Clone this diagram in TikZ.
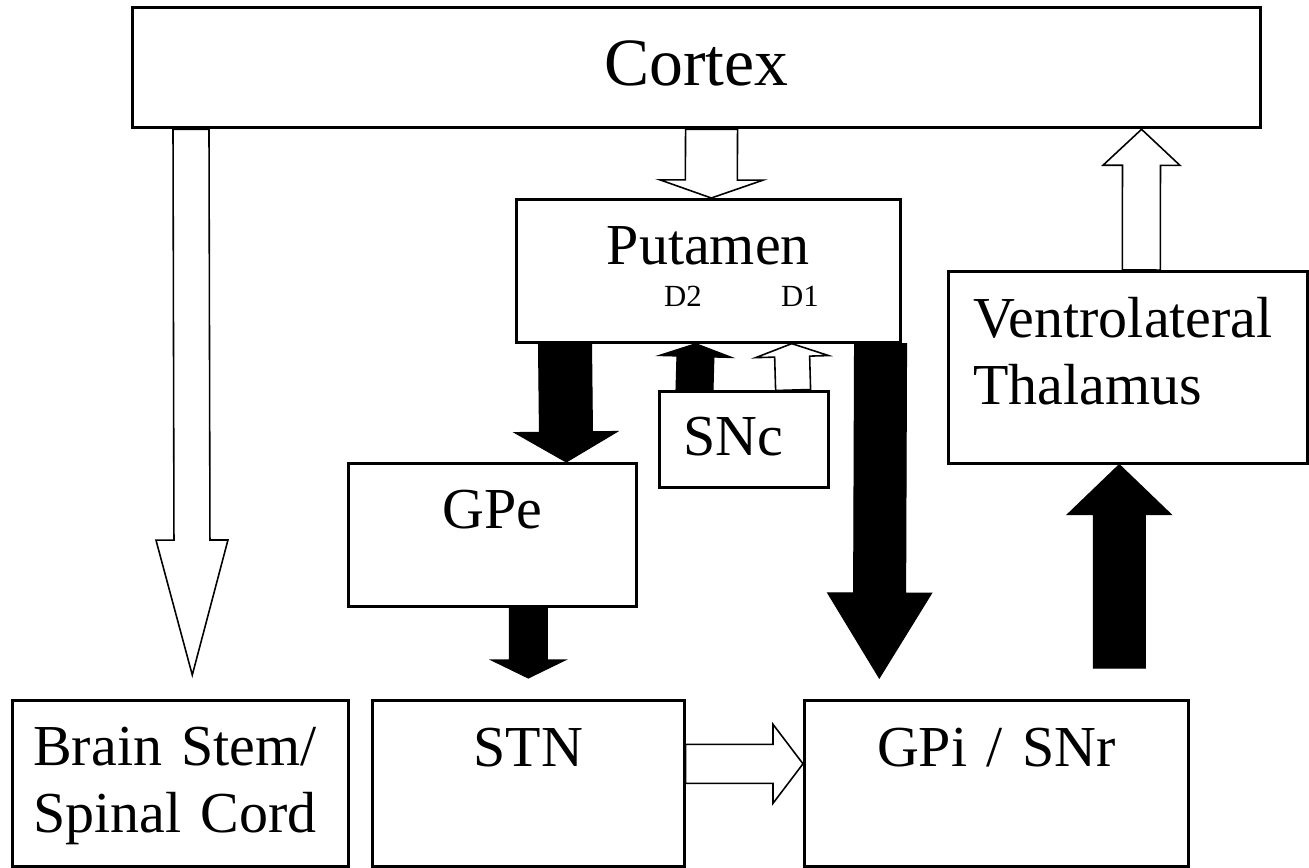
\documentclass[tikz,border=0pt]{standalone}
\usepackage{fontspec}
\setmainfont{Liberation Serif}
\usetikzlibrary{calc}

\DeclareRobustCommand{\boxfont}{\fontsize{33}{38}\selectfont\spaceskip=0.22em\relax}

% block arrow: style, from, to, shaft half width, head half width, head length
\newcommand{\blockarrow}[6]{%
  \coordinate (bh) at ($(#3)!#6!(#2)$);
  \draw[#1] ($(#2)!#4!90:(#3)$) -- ($(bh)!#4!90:(#3)$) -- ($(bh)!#5!90:(#3)$) -- (#3)
    -- ($(bh)!#5!-90:(#3)$) -- ($(bh)!#4!-90:(#3)$) -- ($(#2)!#4!-90:(#3)$) -- cycle;}

\begin{document}
\begin{tikzpicture}[x={(0.02cm,0cm)},y={(0cm,-0.02cm)},  % pixel grid, y pointing down
  box/.style={draw,line width=1.5pt,fill=white,inner sep=0pt,anchor=north west,font=\boxfont},
  hollow/.style={draw,fill=white,line width=0.9pt,line join=miter},
  solid/.style={draw,fill=black,line width=0.6pt,line join=miter}
  ]
  \useasboundingbox (0,0) rectangle (1309,867);
  % BOXES
  \node[box,line width=1.9pt,text width=22.56cm,align=center,text height=1.56cm,text depth=0.84cm,
        font=\fontsize{38.5}{44}\selectfont] (cortex) at (131,6) {Cortex};
  \node[box,text width=7.68cm,align=center,text height=1.3cm,text depth=1.56cm]  (putamen) at (515,198) {Putamen};
  \node[box,inner xsep=0.48cm,text width=2.42cm,align=left,text height=1.28cm,text depth=0.64cm] (snc) at (658,390) {SNc};
  \node[box,text width=5.76cm,align=center,text height=1.3cm,text depth=1.56cm]  (gpe) at (347,462) {GPe};
  \node[box,inner xsep=0.5cm,text width=6.18cm,align=left,text height=1.32cm,text depth=2.52cm]
        (thal) at (947,270) {Ventrolateral\\Thalamus};
  \node[box,inner xsep=0.42cm,text width=5.88cm,align=left,text height=1.3cm,text depth=2.02cm]
        (brain) at (11,699) {Brain Stem/\\Spinal Cord};
  \node[box,text width=6.24cm,align=center,text height=1.32cm,text depth=2cm] (stn) at (371,699) {STN};
  \node[box,text width=7.68cm,align=center,text height=1.32cm,text depth=2cm] (gpi) at (803,699) {GPi / SNr};
  % receptor labels
  \node[font=\fontsize{17.5}{20}\selectfont,anchor=base] (dtwo) at (683,306) {D2};
  \node[font=\fontsize{17.5}{20}\selectfont,anchor=base] (done) at (800,306) {D1};
  % Cortex -> Brain stem
  \coordinate (ctxL)   at ($(cortex.south west)+(60,0)$);
  \coordinate (brainT) at ($(brain.north)+(12,-24)$);
  \blockarrow{hollow}{ctxL}{brainT}{0.36cm}{0.72cm}{2.7cm}
  % Cortex -> Putamen
  \coordinate (ctxM) at ($(cortex.south)+(15,0)$);
  \coordinate (putT) at ($(putamen.north)+(3,0)$);
  \blockarrow{hollow}{ctxM}{putT}{0.52cm}{1.03cm}{0.36cm}
  % Putamen -> GPe
  \coordinate (putL) at ($(putamen.south west)+(50,0)$);
  \coordinate (gpeT) at ($(gpe.north)+(74,0)$);
  \blockarrow{solid}{putL}{gpeT}{0.53cm}{1.03cm}{0.6cm}
  % Putamen -> GPi
  \coordinate (putR) at ($(putamen.south east)+(-21,0)$);
  \coordinate (gpiT) at ($(gpi.north)+(-117,-21)$);
  \blockarrow{solid}{putR}{gpiT}{0.52cm}{1.04cm}{1.7cm}
  % SNc -> Putamen (D2 and D1)
  \coordinate (sncL)  at ($(snc.north west)+(36.5,0)$);
  \coordinate (putDt) at ($(putamen.south)+(-12.5,0)$);
  \blockarrow{solid}{sncL}{putDt}{0.37cm}{0.74cm}{0.26cm}
  \coordinate (sncR)  at ($(snc.north east)+(-36.5,0)$);
  \coordinate (putDo) at ($(putamen.south)+(83.5,0)$);
  \blockarrow{hollow}{sncR}{putDo}{0.35cm}{0.73cm}{0.26cm}
  % GPe -> STN
  \coordinate (gpeB) at ($(gpe.south)+(36,0)$);
  \coordinate (stnT) at ($(stn.north)+(0,-21)$);
  \blockarrow{solid}{gpeB}{stnT}{0.38cm}{0.74cm}{0.36cm}
  % STN -> GPi
  \coordinate (stnR) at ($(stn.east)+(0,-19.5)$);
  \coordinate (gpiL) at ($(gpi.west)+(0,-19.5)$);
  \blockarrow{hollow}{stnR}{gpiL}{0.39cm}{0.79cm}{0.6cm}
  % GPi -> Thalamus
  \coordinate (gpiB)  at ($(gpi.north)+(123,-31)$);
  \coordinate (thalB) at ($(thal.south)+(-8.5,0)$);
  \blockarrow{solid}{gpiB}{thalB}{0.52cm}{1.04cm}{1cm}
  % Thalamus -> Cortex
  \coordinate (thalT) at ($(thal.north)+(13.5,0)$);
  \coordinate (ctxR)  at ($(cortex.south)+(445,0)$);
  \blockarrow{hollow}{thalT}{ctxR}{0.38cm}{0.77cm}{0.72cm}
\end{tikzpicture}
\end{document}
